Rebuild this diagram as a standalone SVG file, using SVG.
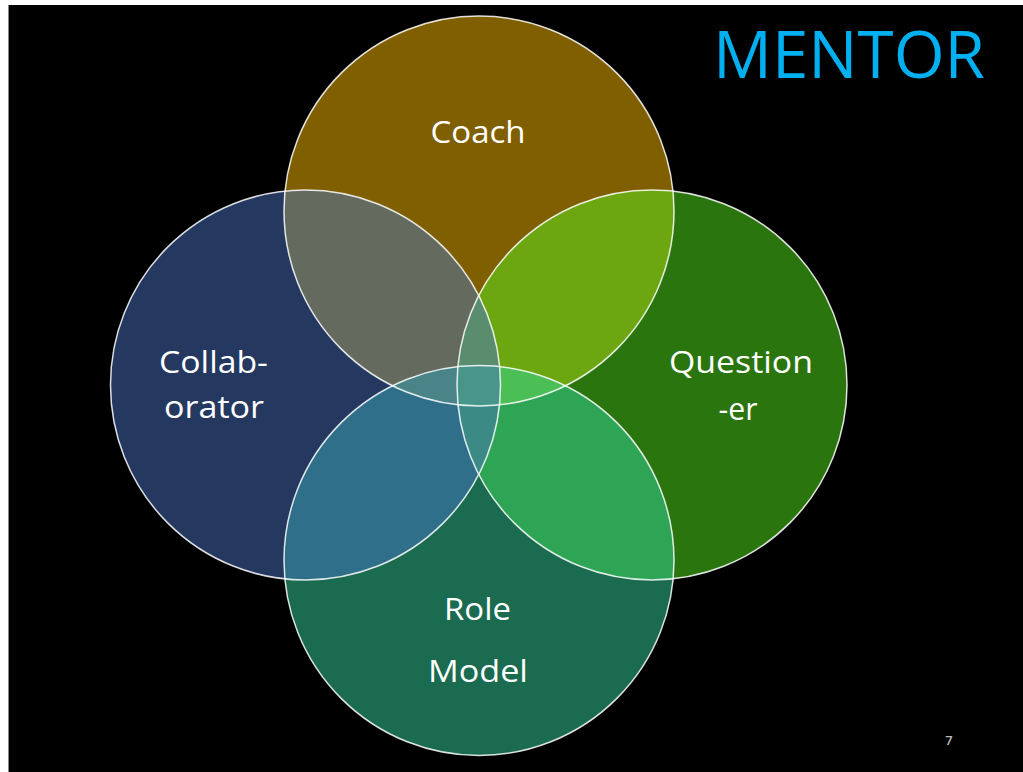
<svg xmlns="http://www.w3.org/2000/svg" width="1023" height="772" viewBox="0 0 1023 772">
<style>
.lbl{font-family:"Open Sans","Noto Sans","Liberation Sans",sans-serif;font-size:31px;fill:#ffffff;text-anchor:middle}
.edge{fill:none;stroke:#ffffff;stroke-opacity:0.85;stroke-width:1.5}
</style>
<defs>
<clipPath id="cpCoach"><circle cx="479" cy="211" r="195"/></clipPath>
<clipPath id="cpCollab"><circle cx="305.5" cy="385" r="195"/></clipPath>
<clipPath id="cpQuest"><circle cx="652" cy="385" r="195"/></clipPath>
<clipPath id="cpRole"><circle cx="479" cy="560.5" r="195"/></clipPath>
</defs>
<rect x="0" y="0" width="1023" height="772" fill="#ffffff"/>
<rect x="8" y="5" width="1015" height="767" fill="#000000"/>
<line x1="8.5" y1="5" x2="8.5" y2="772" stroke="#888888" stroke-width="1"/>

<g id="fills">
<circle cx="479" cy="211" r="195" fill="#7F5F00"/>
<circle cx="305.5" cy="385" r="195" fill="#243860"/>
<circle cx="652" cy="385" r="195" fill="#2B750F"/>
<circle cx="479" cy="560.5" r="195" fill="#1A6B50"/>
<g clip-path="url(#cpCoach)"><circle cx="305.5" cy="385" r="195" fill="#646A5E"/></g>
<g clip-path="url(#cpCoach)"><circle cx="652" cy="385" r="195" fill="#6CA611"/></g>
<g clip-path="url(#cpRole)"><circle cx="652" cy="385" r="195" fill="#2EA455"/></g>
<g clip-path="url(#cpRole)"><circle cx="305.5" cy="385" r="195" fill="#2F6F89"/></g>
<g clip-path="url(#cpCollab)"><g clip-path="url(#cpCoach)"><circle cx="479" cy="560.5" r="195" fill="#4A8388"/></g></g>
<g clip-path="url(#cpQuest)"><g clip-path="url(#cpCoach)"><circle cx="479" cy="560.5" r="195" fill="#4CBE56"/></g></g>
<g clip-path="url(#cpCoach)"><g clip-path="url(#cpCollab)"><circle cx="652" cy="385" r="195" fill="#5A8D6E"/></g></g>
<g clip-path="url(#cpRole)"><g clip-path="url(#cpCollab)"><circle cx="652" cy="385" r="195" fill="#3B8A86"/></g></g>
<g clip-path="url(#cpCoach)"><g clip-path="url(#cpRole)"><g clip-path="url(#cpCollab)"><circle cx="652" cy="385" r="195" fill="#48958A"/></g></g></g>
</g>

<g id="connectors"></g>

<g id="node-coach">
<circle class="edge" cx="479" cy="211" r="195"/>
<text class="lbl" x="478" y="143" textLength="95" lengthAdjust="spacingAndGlyphs">Coach</text>
</g>
<g id="node-collaborator">
<circle class="edge" cx="305.5" cy="385" r="195"/>
<text class="lbl" x="213.5" y="373" textLength="109" lengthAdjust="spacingAndGlyphs">Collab-</text>
<text class="lbl" x="214" y="418" textLength="100" lengthAdjust="spacingAndGlyphs">orator</text>
</g>
<g id="node-questioner">
<circle class="edge" cx="652" cy="385" r="195"/>
<text class="lbl" x="741" y="373" textLength="144" lengthAdjust="spacingAndGlyphs">Question</text>
<text class="lbl" x="738" y="420" textLength="39" lengthAdjust="spacingAndGlyphs">-er</text>
</g>
<g id="node-rolemodel">
<circle class="edge" cx="479" cy="560.5" r="195"/>
<text class="lbl" x="477.5" y="620" textLength="67" lengthAdjust="spacingAndGlyphs">Role</text>
<text class="lbl" x="478" y="682" textLength="100" lengthAdjust="spacingAndGlyphs">Model</text>
</g>

<g id="title">
<text x="713" y="78" font-family="Open Sans, Noto Sans, Liberation Sans, sans-serif" font-size="66" font-weight="500" fill="#00B0F0" textLength="272" lengthAdjust="spacingAndGlyphs">MENTOR</text>
</g>
<g id="page-number">
<text x="949" y="745" font-family="Open Sans, Liberation Sans, sans-serif" font-size="13" font-weight="600" fill="#BBBBBB" text-anchor="middle">7</text>
</g>
</svg>
